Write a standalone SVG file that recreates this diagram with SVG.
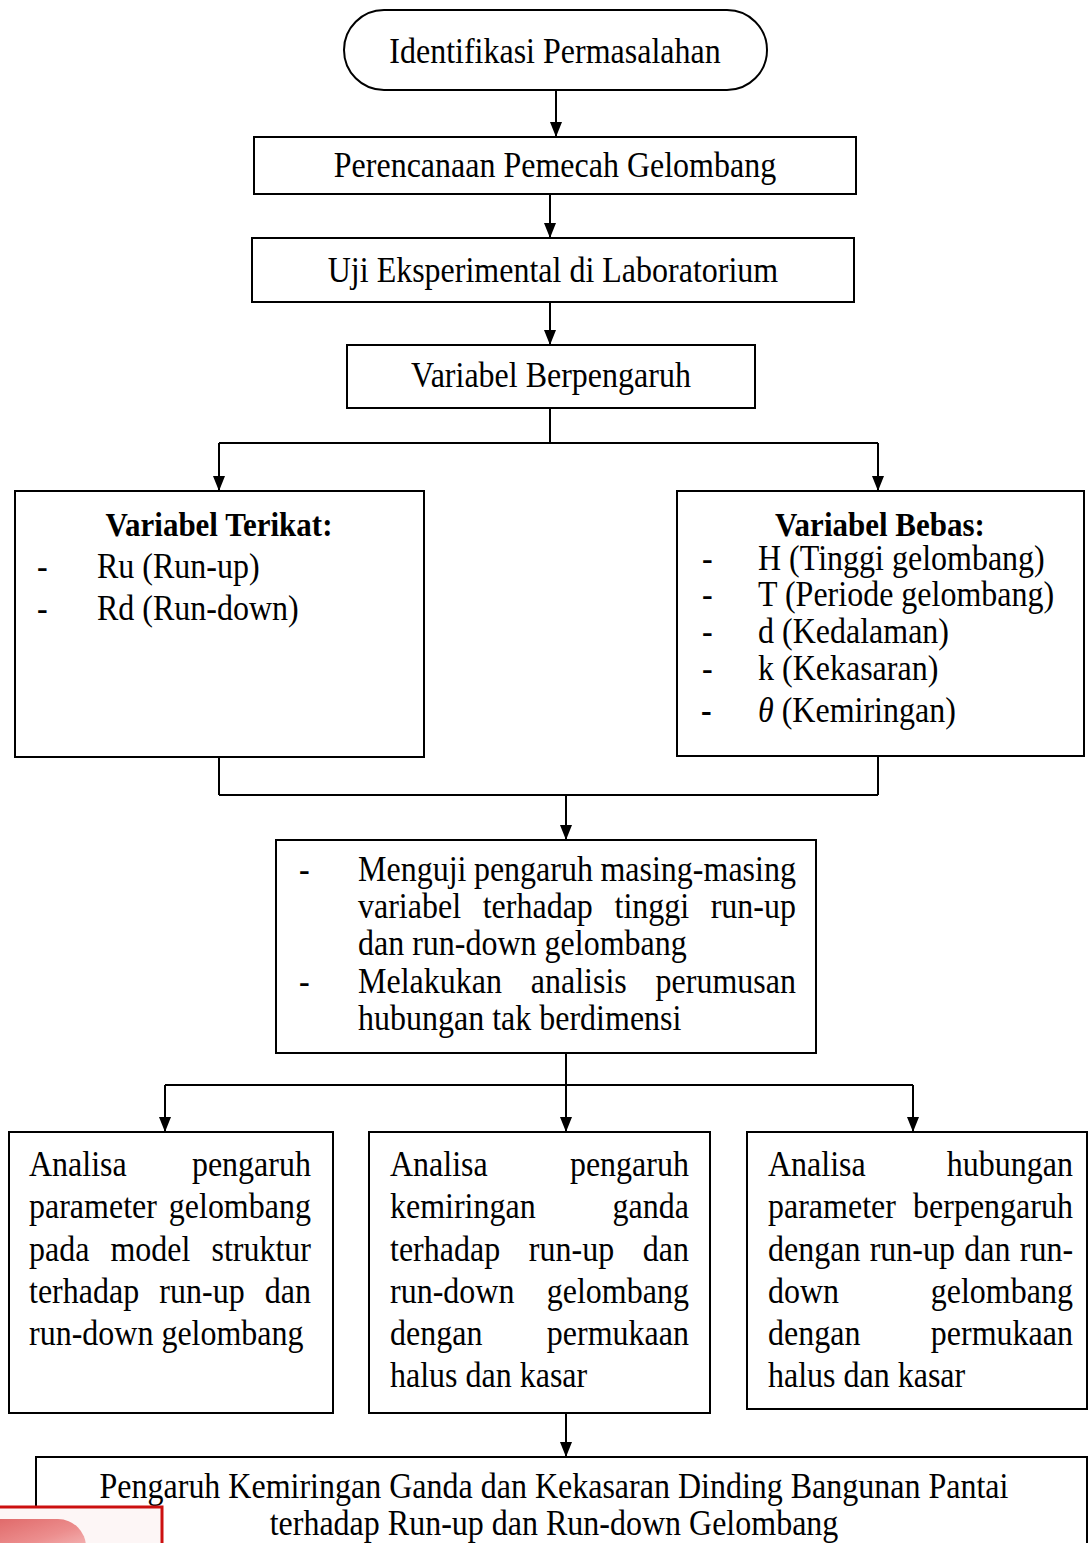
<svg xmlns="http://www.w3.org/2000/svg" width="1089" height="1543" viewBox="0 0 1089 1543">
<style>
.t{font-family:"Liberation Serif","Times New Roman",serif;font-size:32px;fill:#000}
.b{font-family:"Liberation Serif","Times New Roman",serif;font-size:31px;font-weight:bold;fill:#000}
.m{text-anchor:middle}
.box{fill:#fff;stroke:#000;stroke-width:2}
.ln{fill:none;stroke:#000;stroke-width:2}
.ar{fill:none;stroke:#000;stroke-width:2;marker-end:url(#arr)}
</style>
<defs>
<marker id="arr" viewBox="0 0 15 12" refX="15" refY="6" markerWidth="15" markerHeight="12" markerUnits="userSpaceOnUse" orient="auto">
<path d="M0,0 L15,6 L0,12 Z" fill="#000"/>
</marker>
<linearGradient id="pink" x1="0" y1="0" x2="1" y2="1">
<stop offset="0" stop-color="#e06a6a"/>
<stop offset="0.6" stop-color="#ec8e8e"/>
<stop offset="1" stop-color="#f4b4b4"/>
</linearGradient>
</defs>
<rect width="1089" height="1543" fill="#fff"/>

<g id="connectors">
<path class="ar" d="M556,90 V137"/>
<path class="ar" d="M550,194 V238"/>
<path class="ar" d="M550,302 V345"/>
<path class="ln" d="M550,408 V443 M219,443 H878"/>
<path class="ar" d="M219,443 V491"/>
<path class="ar" d="M878,443 V491"/>
<path class="ln" d="M219,757 V795 M878,756 V795 M219,795 H878"/>
<path class="ar" d="M566,795 V840"/>
<path class="ln" d="M566,1053 V1085 M165,1085 H913"/>
<path class="ar" d="M165,1085 V1132"/>
<path class="ar" d="M566,1085 V1132"/>
<path class="ar" d="M913,1085 V1132"/>
<path class="ar" d="M566,1413 V1457"/>
</g>

<g id="n-identifikasi">
<rect class="box" x="344" y="10" width="423" height="80" rx="40" ry="40"/>
<text class="t m" x="555" y="63" transform="matrix(1 0 0 1.12 0 -7.56)">Identifikasi Permasalahan</text>
</g>

<g id="n-perencanaan">
<rect class="box" x="254" y="137" width="602" height="57"/>
<text class="t m" x="555" y="177" transform="matrix(1 0 0 1.12 0 -21.24)">Perencanaan Pemecah Gelombang</text>
</g>

<g id="n-uji">
<rect class="box" x="252" y="238" width="602" height="64"/>
<text class="t m" x="553" y="282" transform="matrix(1 0 0 1.12 0 -33.84)">Uji Eksperimental di Laboratorium</text>
</g>

<g id="n-variabel">
<rect class="box" x="347" y="345" width="408" height="63"/>
<text class="t m" x="551" y="387" transform="matrix(1 0 0 1.12 0 -46.44)">Variabel Berpengaruh</text>
</g>

<g id="n-terikat">
<rect class="box" x="15" y="491" width="409" height="266"/>
<text class="b m" x="219" y="536" transform="matrix(1 0 0 1.12 0 -64.32)">Variabel Terikat:</text>
<text class="t" y="578" transform="matrix(1 0 0 1.12 0 -69.36)"><tspan x="37">-</tspan><tspan x="97">Ru (Run-up)</tspan></text>
<text class="t" y="620" transform="matrix(1 0 0 1.12 0 -74.4)"><tspan x="37">-</tspan><tspan x="97">Rd (Run-down)</tspan></text>
</g>

<g id="n-bebas">
<rect class="box" x="677" y="491" width="407" height="265"/>
<text class="b m" x="880" y="536" transform="matrix(1 0 0 1.12 0 -64.32)">Variabel Bebas:</text>
<text class="t" y="570" transform="matrix(1 0 0 1.12 0 -68.4)"><tspan x="702">-</tspan><tspan x="758">H (Tinggi gelombang)</tspan></text>
<text class="t" y="606" transform="matrix(1 0 0 1.12 0 -72.72)"><tspan x="702">-</tspan><tspan x="758">T (Periode gelombang)</tspan></text>
<text class="t" y="643" transform="matrix(1 0 0 1.12 0 -77.16)"><tspan x="702">-</tspan><tspan x="758">d (Kedalaman)</tspan></text>
<text class="t" y="680" transform="matrix(1 0 0 1.12 0 -81.6)"><tspan x="702">-</tspan><tspan x="758">k (Kekasaran)</tspan></text>
<text class="t" y="722" transform="matrix(1 0 0 1.12 0 -86.64)"><tspan x="701" font-weight="bold">-</tspan><tspan x="758" font-style="italic">θ</tspan><tspan> (Kemiringan)</tspan></text>
</g>

<g id="n-menguji">
<rect class="box" x="276" y="840" width="540" height="213"/>
<text class="t" y="881" transform="matrix(1 0 0 1.12 0 -105.72)"><tspan x="299">-</tspan><tspan x="358">Menguji</tspan><tspan x="473.9">pengaruh</tspan><tspan x="600.45">masing-masing</tspan></text>
<text class="t" y="918" transform="matrix(1 0 0 1.12 0 -110.16)"><tspan x="358">variabel</tspan><tspan x="482.7">terhadap</tspan><tspan x="614.5">tinggi</tspan><tspan x="710.69">run-up</tspan></text>
<text class="t" x="358" y="955" transform="matrix(1 0 0 1.12 0 -114.6)">dan run-down gelombang</text>
<text class="t" y="993" transform="matrix(1 0 0 1.12 0 -119.16)"><tspan x="299">-</tspan><tspan x="358">Melakukan</tspan><tspan x="530.8">analisis</tspan><tspan x="655.58">perumusan</tspan></text>
<text class="t" x="358" y="1030" transform="matrix(1 0 0 1.12 0 -123.6)">hubungan tak berdimensi</text>
</g>

<g id="n-analisa-a">
<rect class="box" x="9" y="1132" width="324" height="281"/>
<text class="t" y="1176" transform="matrix(1 0 0 1.12 0 -141.12)"><tspan x="29">Analisa</tspan><tspan x="191.93">pengaruh</tspan></text>
<text class="t" y="1218" transform="matrix(1 0 0 1.12 0 -146.16)"><tspan x="29">parameter</tspan><tspan x="168.79">gelombang</tspan></text>
<text class="t" y="1261" transform="matrix(1 0 0 1.12 0 -151.32)"><tspan x="29">pada</tspan><tspan x="110.4">model</tspan><tspan x="211.45">struktur</tspan></text>
<text class="t" y="1303" transform="matrix(1 0 0 1.12 0 -156.36)"><tspan x="29">terhadap</tspan><tspan x="159.35">run-up</tspan><tspan x="264.79">dan</tspan></text>
<text class="t" x="29" y="1345" transform="matrix(1 0 0 1.12 0 -161.4)">run-down gelombang</text>
</g>

<g id="n-analisa-b">
<rect class="box" x="369" y="1132" width="341" height="281"/>
<text class="t" y="1176" transform="matrix(1 0 0 1.12 0 -141.12)"><tspan x="390">Analisa</tspan><tspan x="569.93">pengaruh</tspan></text>
<text class="t" y="1218" transform="matrix(1 0 0 1.12 0 -146.16)"><tspan x="390">kemiringan</tspan><tspan x="612.58">ganda</tspan></text>
<text class="t" y="1261" transform="matrix(1 0 0 1.12 0 -151.32)"><tspan x="390">terhadap</tspan><tspan x="528.85">run-up</tspan><tspan x="642.79">dan</tspan></text>
<text class="t" y="1303" transform="matrix(1 0 0 1.12 0 -156.36)"><tspan x="390">run-down</tspan><tspan x="546.79">gelombang</tspan></text>
<text class="t" y="1345" transform="matrix(1 0 0 1.12 0 -161.4)"><tspan x="390">dengan</tspan><tspan x="546.82">permukaan</tspan></text>
<text class="t" x="390" y="1387" transform="matrix(1 0 0 1.12 0 -166.44)">halus dan kasar</text>
</g>

<g id="n-analisa-c">
<rect class="box" x="747" y="1132" width="340" height="277"/>
<text class="t" y="1176" transform="matrix(1 0 0 1.12 0 -141.12)"><tspan x="768">Analisa</tspan><tspan x="946.79">hubungan</tspan></text>
<text class="t" y="1218" transform="matrix(1 0 0 1.12 0 -146.16)"><tspan x="768">parameter</tspan><tspan x="913.06">berpengaruh</tspan></text>
<text class="t" y="1261" transform="matrix(1 0 0 1.12 0 -151.32)"><tspan x="768">dengan</tspan><tspan x="869.69">run-up</tspan><tspan x="964.27">dan</tspan><tspan x="1019.75">run-</tspan></text>
<text class="t" y="1303" transform="matrix(1 0 0 1.12 0 -156.36)"><tspan x="768">down</tspan><tspan x="930.79">gelombang</tspan></text>
<text class="t" y="1345" transform="matrix(1 0 0 1.12 0 -161.4)"><tspan x="768">dengan</tspan><tspan x="930.82">permukaan</tspan></text>
<text class="t" x="768" y="1387" transform="matrix(1 0 0 1.12 0 -166.44)">halus dan kasar</text>
</g>

<g id="n-pengaruh">
<rect class="box" x="36" y="1457" width="1051" height="110"/>
<text class="t m" x="554" y="1498" transform="matrix(1 0 0 1.12 0 -179.76)">Pengaruh Kemiringan Ganda dan Kekasaran Dinding Bangunan Pantai</text>
<text class="t m" x="554" y="1535" transform="matrix(1 0 0 1.12 0 -184.2)">terhadap Run-up dan Run-down Gelombang</text>
</g>

<g id="logo-fragment">
<rect x="-3" y="1507" width="165" height="45" fill="#fdf6f6" stroke="#cc1010" stroke-width="3"/>
<path d="M-2,1519 H58 A28,28 0 0 1 86,1547 H-2 Z" fill="url(#pink)"/>
</g>
</svg>
